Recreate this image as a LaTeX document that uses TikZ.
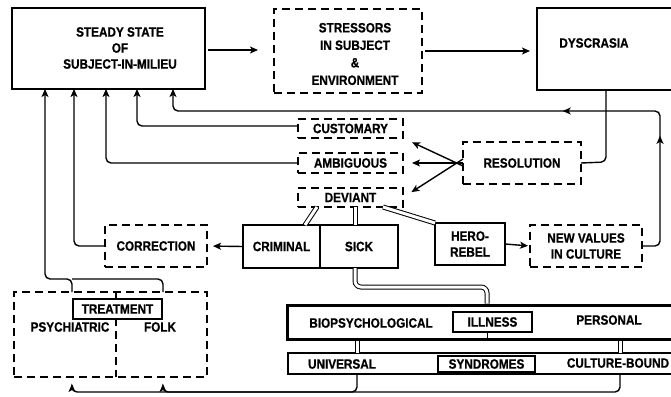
\documentclass[tikz,border=0pt]{standalone}
\usepackage{fontspec}
\setmainfont[FakeStretch=0.87, BoldFeatures={FakeBold=0.7}]{Liberation Sans}
\usetikzlibrary{arrows.meta,decorations.markings}
\tikzset{mytip/.tip={Stealth[length=8pt,width=7pt,inset=2pt]}}
\begin{document}
\begin{tikzpicture}[x=1pt,y=-1pt,
  lbl/.style={font=\fontsize{13.5}{16}\selectfont\bfseries, align=center, inner sep=0pt},
  sbox/.style={draw, line width=1.3pt, inner sep=0pt, outer sep=0pt, lbl},
  dbox/.style={sbox, dash pattern=on 8pt off 5pt},
  conn/.style={line width=1.4pt, rounded corners=5pt},
  arr/.style={conn, -mytip},
  dbl/.style={double, double distance=3pt, line width=1pt, rounded corners=6pt},
  midarrows/.style={postaction={decorate}, decoration={markings,
     mark=at position 126pt with {\arrow{mytip}},
     mark=at position 246pt with {\arrow{mytip}}}}
]
\useasboundingbox (0,0) rectangle (671,396);
\clip (0,0) rectangle (671,396);

% top row
\node[sbox, minimum width=193pt, minimum height=81pt] (ss) at (108.5,48.5) {};
\node[lbl] (sstxt) at (120,48) {STEADY STATE\\OF\\SUBJECT-IN-MILIEU};
\node[dbox, minimum width=148pt, minimum height=84pt] (str) at (348,51) {};
\node[lbl, font=\fontsize{13.5}{17.5}\selectfont\bfseries] (strtxt) at (355,54) {STRESSORS\\IN SUBJECT\\\&\\ENVIRONMENT};
\node[sbox, minimum width=163pt, minimum height=82pt] (dys) at (618.5,49) {};
\node[lbl] (dystxt) at (594,43) {DYSCRASIA};

% middle column
\node[dbox, minimum width=105pt, minimum height=19pt] (cus) at (350.5,128.5) {CUSTOMARY};
\node[dbox, minimum width=105pt, minimum height=20pt] (amb) at (350.5,163) {AMBIGUOUS};
\node[dbox, minimum width=105pt, minimum height=19pt] (dev) at (350.5,197.5) {DEVIANT};
\node[dbox, minimum width=118pt, minimum height=42pt] (res) at (522,163) {RESOLUTION};

% row of outcomes
\node[sbox, minimum width=77pt, minimum height=43pt] (crim) at (281.5,246.5) {CRIMINAL};
\node[sbox, minimum width=78pt, minimum height=43pt] (sick) at (359,246.5) {SICK};
\node[sbox, minimum width=70pt, minimum height=42pt] (hero) at (470,244) {HERO-\\REBEL};
\node[dbox, minimum width=112pt, minimum height=42pt] (newv) at (586,246) {NEW VALUES\\IN CULTURE};
\node[dbox, minimum width=102pt, minimum height=42pt] (corr) at (156,246) {CORRECTION};

% treatment
\node[dbox, minimum width=193pt, minimum height=85pt] (psy) at (110.5,334.5) {};
\draw[line width=1.3pt, dash pattern=on 8pt off 5pt] (116,0 |- psy.north) -- (116,0 |- psy.south);
\node[sbox, fill=white, minimum width=89pt, minimum height=20pt] (treat) at (117.5,309) {TREATMENT};
\node[lbl] (psytxt) at (70,327) {PSYCHIATRIC};
\node[lbl] (folktxt) at (160,327) {FOLK};

% illness
\node[draw, line width=3pt, inner sep=0pt, minimum width=433pt, minimum height=34pt] (bio) at (503.5,322) {};
\node[lbl] (biotxt) at (371,323) {BIOPSYCHOLOGICAL};
\node[lbl] (pertxt) at (609,320) {PERSONAL};
\node[sbox, minimum width=79pt, minimum height=20pt] (ill) at (492.5,322) {ILLNESS};
\node[sbox, minimum width=432pt, minimum height=21pt] (uni) at (504,363.5) {};
\node[lbl] (unitxt) at (342,364) {UNIVERSAL};
\node[lbl] (cbtxt) at (618,363) {CULTURE-BOUND};
\node[sbox, minimum width=97pt, minimum height=16pt] (syn) at (486.5,364) {SYNDROMES};

% connectors, top row
\draw[arr, shorten <=3pt, shorten >=16pt] (ss.east |- 0,50) -- (str.west |- 0,50);
\draw[arr, shorten <=3pt, shorten >=7pt] (str.east |- 0,51) -- (dys.west |- 0,51);
\draw[conn] (606,0 |- dys.south) -- (606,162) -- (res.east);

% feedback from new values
\draw[arr, midarrows] (newv.east) -- (660,246) -- (660,111) -- (173,111) -- (173,0 |- ss.south);

% resolution fan
\draw[arr, shorten >=10pt] ([yshift=-3pt]res.west) -- (cus.south east);
\draw[arr, shorten >=9pt] (res.west) -- (amb.east);
\draw[arr, shorten >=10pt] ([yshift=4pt]res.west) -- (dev.east);

% returns to steady state
\draw[arr] (cus.west |- 0,126) -- (137,126) -- (137,0 |- ss.south);
\draw[arr] (amb.west) -- (106,163) -- (106,0 |- ss.south);
\draw[arr] (corr.west) -- (74,246) -- (74,0 |- ss.south);
\draw[arr] (72,0 |- psy.north) -- (72,279) -- (45,279) -- (45,0 |- ss.south);
\draw[conn] (163,0 |- psy.north) -- (163,279) -- (72,279);

\draw[arr, shorten <=1pt, shorten >=6pt] (crim.west) -- (corr.east);
\draw[arr, shorten >=2pt] (hero.east) -- (newv.west);

% double connectors from deviant
\draw[dbl] (317,0 |- dev.south) -- (305,0 |- crim.north);
\draw[dbl] (355,0 |- dev.south) -- (355,0 |- sick.north);
\draw[dbl] (383,0 |- dev.south) -- (hero.north west);

% sick to illness
\draw[dbl] (355,0 |- sick.south) -- (355,287) -- (487,287) -- (487,0 |- bio.north);
\draw[line width=1pt] (487,0 |- ill.south) -- (487,0 |- bio.south);
\draw[dbl] (357,0 |- bio.south) -- (357,0 |- uni.north);
\draw[dbl] (620,0 |- bio.south) -- (620,0 |- uni.north);

% syndromes to treatment
\draw[arr, shorten >=7pt] (357,0 |- uni.south) -- (357,392) -- (72,392) -- (72,0 |- psy.south);
\draw[arr, shorten >=7pt] (620,0 |- uni.south) -- (620,392) -- (163,392) -- (163,0 |- psy.south);
\end{tikzpicture}
\end{document}
